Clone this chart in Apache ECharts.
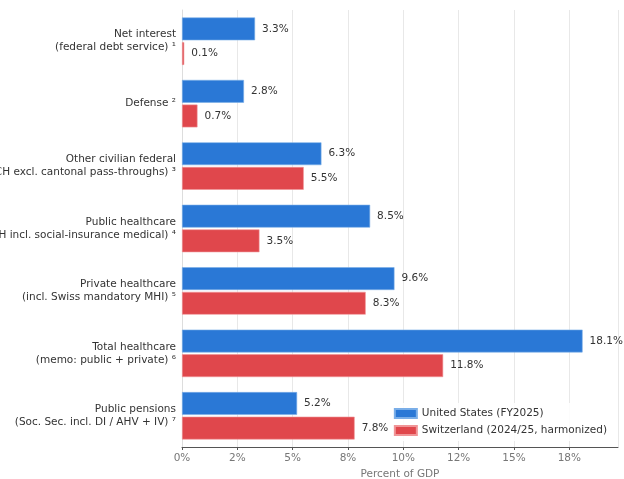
<!DOCTYPE html>
<html><head><meta charset="utf-8">
<script src="https://cdn.jsdelivr.net/npm/echarts@6/dist/echarts.min.js"></script>
<style>html,body{margin:0;background:#fff}#c{width:624px;height:479px}</style>
</head><body><div id="c"></div>
<script>
var categories = [
	"Net interest\n(federal debt service) ¹",
	"Defense ²",
	"Other civilian federal\n(CH excl. cantonal pass-throughs) ³",
	"Public healthcare\n(CH incl. social-insurance medical) ⁴",
	"Private healthcare\n(incl. Swiss mandatory MHI) ⁵",
	"Total healthcare\n(memo: public + private) ⁶",
	"Public pensions\n(Soc. Sec. incl. DI / AHV + IV) ⁷"
];
var usValues = [3.3, 2.8, 6.3, 8.5, 9.6, 18.1, 5.2];
var chValues = [0.1, 0.7, 5.5, 3.5, 8.3, 11.8, 7.8];
var tickLabels = { 0: "0%", 2.5: "2%", 5: "5%", 7.5: "8%", 10: "10%", 12.5: "12%", 15: "15%", 17.5: "18%" };

var chart = echarts.init(document.getElementById("c"));
var lbl = {
	show: true, position: "right", distance: 7, color: "#333", fontSize: 10.5,
	fontFamily: "DejaVu Sans", formatter: function (p) { return p.value.toFixed(1) + "%"; }
};
chart.setOption({
	animation: false,
	textStyle: { fontFamily: "DejaVu Sans" },
	grid: { left: 182, right: 6, top: 10, bottom: 32, outerBoundsMode: "none", containLabel: false },
	legend: {
		orient: "vertical", right: 12, bottom: 38,
		itemWidth: 22, itemHeight: 9, itemGap: 6,
		textStyle: { fontSize: 10.5, color: "#333" },
		icon: "rect",
		backgroundColor: "rgba(255,255,255,0.85)",
		data: ["United States (FY2025)", "Switzerland (2024/25, harmonized)"]
	},
	xAxis: {
		type: "value", min: 0, max: 19.7, interval: 2.5,
		name: "Percent of GDP", nameLocation: "middle", nameGap: 20,
		nameTextStyle: { color: "#777", fontSize: 10.5 },
		axisLine: { show: true, lineStyle: { color: "#555" } },
		axisTick: { show: true, length: 3, lineStyle: { color: "#555" } },
		axisLabel: { color: "#777", fontSize: 10.5, margin: 6, showMaxLabel: false,
			formatter: function (v) { return tickLabels[v] !== undefined ? tickLabels[v] : ""; } },
		splitLine: { show: true, lineStyle: { color: "#e8e8e8" } }
	},
	yAxis: {
		type: "category", inverse: true, data: categories,
		axisLine: { show: true, lineStyle: { color: "#ddd" } },
		axisTick: { show: false },
		axisLabel: { color: "#333", fontSize: 10.5, align: "right", lineHeight: 13, margin: 6 }
	},
	series: [
		{ name: "United States (FY2025)", type: "bar", data: usValues,
		  itemStyle: { color: "#2a78d6", borderColor: "#7aaee8", borderWidth: 0.6 },
		  barGap: "8%", barCategoryGap: "24%", label: lbl },
		{ name: "Switzerland (2024/25, harmonized)", type: "bar", data: chValues,
		  itemStyle: { color: "#e0474c", borderColor: "#f09597", borderWidth: 0.6 },
		  label: lbl }
	]
});
</script></body></html>
